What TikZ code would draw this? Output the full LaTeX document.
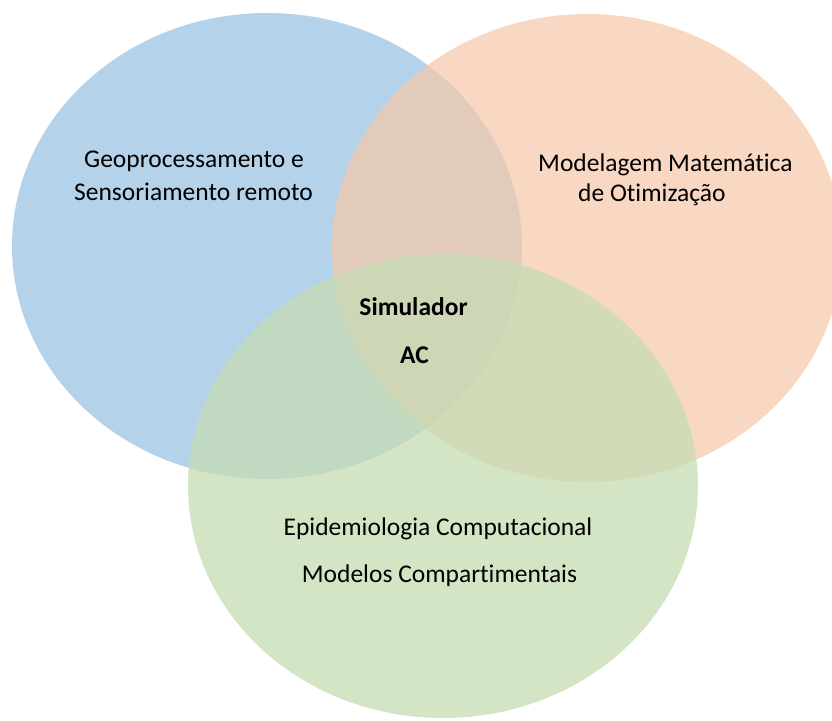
\documentclass[tikz,border=0pt]{standalone}
\usepackage{fontspec}
\setmainfont{Carlito}[Ligatures=NoCommon]
\usepackage{tikz}
\usetikzlibrary{positioning}

\definecolor{setblue}{RGB}{181,210,235}
\definecolor{setorange}{RGB}{245,201,170}
\definecolor{setgreen}{RGB}{198,220,179}

\tikzset{
  lbl/.style={font=\fontsize{25.5}{30}\selectfont, inner sep=0pt, anchor=base},
  lblbold/.style={lbl, font=\fontsize{25.5}{30}\selectfont\bfseries}
}

\begin{document}
\begin{tikzpicture}[x=1pt, y=-1pt]
  \useasboundingbox (0,0) rectangle (832,720);
  \clip (0,0) rectangle (832,720);
  \foreach \cx/\cy/\ry/\col/\op in {267/246/233/setblue/1, 587/248/234/setorange/0.72, 443/486/232/setgreen/0.75} {
    \fill[\col, fill opacity=\op] (\cx,\cy) ellipse [x radius=255pt, y radius=\ry pt];
  }
  \node[lbl] (geoA) at (194,167) {Geoprocessamento e};
  \node[lbl] (geoB) at (193.5,200) {Sensoriamento remoto};
  \node[lbl, anchor=base west] (modA) at (538,171) {Modelagem Matemática};
  \node[lbl, anchor=base west] (modB) at (578,201) {de Otimização};
  \node[lblbold] (simA) at (413.5,315) {Simulador};
  \node[lblbold] (simB) at (414.5,363) {AC};
  \node[lbl] (epiA) at (438,535) {Epidemiologia Computacional};
  \node[lbl] (epiB) at (439.5,582) {Modelos Compartimentais};
\end{tikzpicture}
\end{document}
